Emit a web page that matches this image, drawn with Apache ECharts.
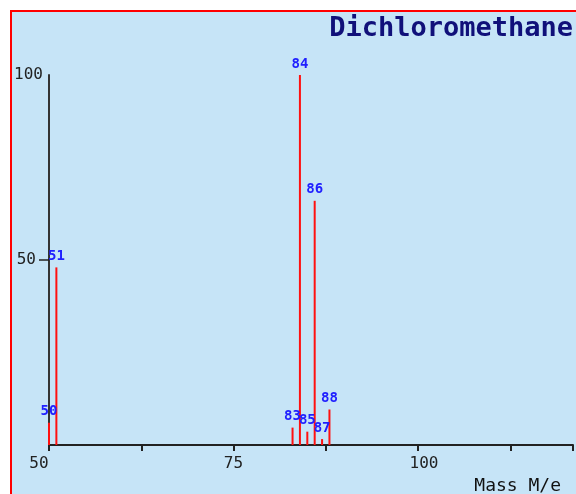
<!DOCTYPE html>
<html>
<head>
<meta charset="utf-8">
<script src="https://cdn.jsdelivr.net/npm/echarts@6/dist/echarts.min.js"></script>
<style>
  html, body { margin: 0; padding: 0; background: #ffffff; }
  #chart { width: 576px; height: 494px; }
</style>
</head>
<body>
<div id="chart"></div>
<script>
// mass spectrum peaks (m/z, relative intensity %)
var masses = [50, 51, 83, 84, 85, 86, 87, 88];
var intensities = [6, 48, 4.7, 100, 3.6, 66, 1.6, 9.6];
var xTicks = [50, 75, 100];
var yTicks = [50, 100];

var font = 'DejaVu Sans Mono';

var peaks = [];
for (let i = 0; i < masses.length; i++) {
    peaks.push([masses[i], intensities[i]]);
}

var option = {
    backgroundColor: '#ffffff',
    animation: false,
    graphic: [
        {
            type: 'rect',
            z: -10,
            shape: { x: 11, y: 11, width: 620, height: 520 },
            style: { fill: '#c6e4f7', stroke: '#ff0000', lineWidth: 2 }
        },
        {
            type: 'text',
            right: 3,
            top: 15,
            style: {
                text: 'Dichloromethane',
                font: 'bold 27px "' + font + '"',
                fill: '#10107a'
            }
        },
        {
            type: 'text',
            right: 15,
            top: 477,
            style: {
                text: 'Mass M/e',
                font: '18px "' + font + '"',
                fill: '#111111'
            }
        }
    ],
    // the plot runs off the right edge of the picture
    grid: { left: 49, top: 75, bottom: 49, right: 0, containLabel: false },
    xAxis: {
        type: 'value',
        min: 50,
        max: 121,
        interval: 12.5,
        splitLine: { show: false },
        axisLine: { onZero: false, lineStyle: { color: '#222222', width: 2 } },
        axisTick: { show: true, length: 6, lineStyle: { color: '#222222', width: 2 } },
        axisLabel: {
            margin: 11,
            color: '#222222',
            fontFamily: font,
            fontSize: 16,
            formatter: function (v) {
                if (v == 50) return '{l|50}';
                if (v == 100) return '{r|100}';
                return xTicks.indexOf(v) >= 0 ? String(v) : '';
            },
            rich: {
                l: { fontFamily: font, fontSize: 16, color: '#222222', padding: [0, 20, 0, 0] },
                r: { fontFamily: font, fontSize: 16, color: '#222222', padding: [0, 0, 0, 12] }
            }
        }
    },
    yAxis: {
        type: 'value',
        min: 0,
        max: 100,
        interval: 50,
        splitLine: { show: false },
        axisLine: { show: true, lineStyle: { color: '#333333', width: 2 } },
        axisTick: { show: true, length: 10, customValues: [50], lineStyle: { color: '#222222', width: 1.5 } },
        axisLabel: {
            margin: 4,
            color: '#222222',
            fontFamily: font,
            fontSize: 16,
            customValues: yTicks,
            formatter: function (v) {
                return v == 50 ? '{b|50}' : '{a|' + v + '}';
            },
            rich: {
                a: { fontFamily: font, fontSize: 16, color: '#222222', padding: [0, 2, 0, 0] },
                b: { fontFamily: font, fontSize: 16, color: '#222222', padding: [0, 9, 0, 0] }
            }
        }
    },
    series: [
        {
            type: 'bar',
            data: peaks,
            barWidth: 2,
            itemStyle: { color: '#ff1010' },
            label: {
                show: true,
                position: 'top',
                distance: 4,
                color: '#2020ff',
                fontFamily: font,
                fontWeight: 'bold',
                fontSize: 14,
                formatter: function (p) { return p.value[0]; }
            }
        }
    ]
};

var myChart = echarts.init(document.getElementById('chart'));
myChart.setOption(option);
</script>
</body>
</html>
